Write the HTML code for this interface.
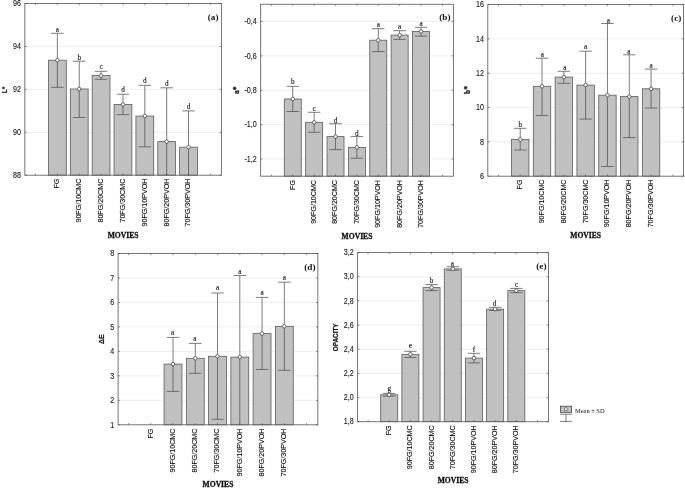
<!DOCTYPE html>
<html><head><meta charset="utf-8"><title>Figure</title>
<style>
html,body{margin:0;padding:0;background:#fff;}
body{width:685px;height:488px;overflow:hidden;}
svg{display:block;will-change:transform;}
text{fill:#111;}
.yt{font-family:"Liberation Sans",sans-serif;font-size:8.3px;stroke:#111;stroke-width:0.1px;}
.xl{font-family:"Liberation Sans",sans-serif;font-size:7.7px;stroke:#111;stroke-width:0.15px;}
.let{font-family:"Liberation Serif",serif;font-size:7.2px;stroke:#111;stroke-width:0.12px;}
.mov{font-family:"Liberation Serif",serif;font-size:7.6px;font-weight:bold;stroke:#111;stroke-width:0.3px;}
.tag{font-family:"Liberation Serif",serif;font-size:9.2px;font-weight:bold;}
.yls{font-family:"Liberation Sans",sans-serif;font-size:6.5px;font-weight:bold;stroke:#111;stroke-width:0.2px;}
.ylr{font-family:"Liberation Serif",serif;font-size:7.5px;font-weight:bold;stroke:#111;stroke-width:0.25px;}
.leg{font-family:"Liberation Serif",serif;font-size:6.4px;}
</style></head>
<body>
<svg width="685" height="488" viewBox="0 0 685 488">
<rect x="0" y="0" width="685" height="488" fill="#fff"/>
<g id="pa">
<line x1="24.85" y1="46.4775" x2="221.4" y2="46.4775" stroke="#d2d2d2" stroke-width="0.6" stroke-dasharray="0.6 0.4"/>
<line x1="24.85" y1="89.38499999999999" x2="221.4" y2="89.38499999999999" stroke="#d2d2d2" stroke-width="0.6" stroke-dasharray="0.6 0.4"/>
<line x1="24.85" y1="132.2925" x2="221.4" y2="132.2925" stroke="#d2d2d2" stroke-width="0.6" stroke-dasharray="0.6 0.4"/>
<rect x="48.48" y="60.20" width="17.80" height="115.00" fill="#c0c0c0" stroke="#5c5c5c" stroke-width="0.8"/>
<rect x="70.34" y="89.00" width="17.80" height="86.20" fill="#c0c0c0" stroke="#5c5c5c" stroke-width="0.8"/>
<rect x="92.20" y="75.50" width="17.80" height="99.70" fill="#c0c0c0" stroke="#5c5c5c" stroke-width="0.8"/>
<rect x="114.06" y="104.40" width="17.80" height="70.80" fill="#c0c0c0" stroke="#5c5c5c" stroke-width="0.8"/>
<rect x="135.92" y="116.10" width="17.80" height="59.10" fill="#c0c0c0" stroke="#5c5c5c" stroke-width="0.8"/>
<rect x="157.78" y="141.60" width="17.80" height="33.60" fill="#c0c0c0" stroke="#5c5c5c" stroke-width="0.8"/>
<rect x="179.64" y="147.20" width="17.80" height="28.00" fill="#c0c0c0" stroke="#5c5c5c" stroke-width="0.8"/>
<rect x="24.85" y="3.57" width="196.55" height="171.63" fill="none" stroke="#666" stroke-width="0.9"/>
<line x1="57.38" y1="33.3" x2="57.38" y2="87.3" stroke="#505050" stroke-width="0.75"/>
<line x1="51.18" y1="33.3" x2="63.58" y2="33.3" stroke="#505050" stroke-width="0.75"/>
<line x1="51.18" y1="87.3" x2="63.58" y2="87.3" stroke="#505050" stroke-width="0.75"/>
<circle cx="57.38" cy="60.20" r="1.75" fill="#fff" stroke="#404040" stroke-width="0.75"/>
<text x="57.38" y="31.80" class="let" text-anchor="middle">a</text>
<line x1="79.24" y1="61.2" x2="79.24" y2="117.5" stroke="#505050" stroke-width="0.75"/>
<line x1="73.04" y1="61.2" x2="85.44" y2="61.2" stroke="#505050" stroke-width="0.75"/>
<line x1="73.04" y1="117.5" x2="85.44" y2="117.5" stroke="#505050" stroke-width="0.75"/>
<circle cx="79.24" cy="89.00" r="1.75" fill="#fff" stroke="#404040" stroke-width="0.75"/>
<text x="79.24" y="59.70" class="let" text-anchor="middle">b</text>
<line x1="101.10" y1="71.3" x2="101.10" y2="79.3" stroke="#505050" stroke-width="0.75"/>
<line x1="94.90" y1="71.3" x2="107.30" y2="71.3" stroke="#505050" stroke-width="0.75"/>
<line x1="94.90" y1="79.3" x2="107.30" y2="79.3" stroke="#505050" stroke-width="0.75"/>
<circle cx="101.10" cy="75.50" r="1.75" fill="#fff" stroke="#404040" stroke-width="0.75"/>
<text x="101.10" y="69.30" class="let" text-anchor="middle">c</text>
<line x1="122.96" y1="94.2" x2="122.96" y2="114.7" stroke="#505050" stroke-width="0.75"/>
<line x1="116.76" y1="94.2" x2="129.16" y2="94.2" stroke="#505050" stroke-width="0.75"/>
<line x1="116.76" y1="114.7" x2="129.16" y2="114.7" stroke="#505050" stroke-width="0.75"/>
<circle cx="122.96" cy="104.40" r="1.75" fill="#fff" stroke="#404040" stroke-width="0.75"/>
<text x="122.96" y="92.00" class="let" text-anchor="middle">d</text>
<line x1="144.82" y1="85.3" x2="144.82" y2="146.8" stroke="#505050" stroke-width="0.75"/>
<line x1="138.62" y1="85.3" x2="151.02" y2="85.3" stroke="#505050" stroke-width="0.75"/>
<line x1="138.62" y1="146.8" x2="151.02" y2="146.8" stroke="#505050" stroke-width="0.75"/>
<circle cx="144.82" cy="116.10" r="1.75" fill="#fff" stroke="#404040" stroke-width="0.75"/>
<text x="144.82" y="83.30" class="let" text-anchor="middle">d</text>
<line x1="166.68" y1="87.8" x2="166.68" y2="175.2" stroke="#505050" stroke-width="0.75"/>
<line x1="160.48" y1="87.8" x2="172.88" y2="87.8" stroke="#505050" stroke-width="0.75"/>
<circle cx="166.68" cy="141.60" r="1.75" fill="#fff" stroke="#404040" stroke-width="0.75"/>
<text x="166.68" y="86.00" class="let" text-anchor="middle">d</text>
<line x1="188.54" y1="110.9" x2="188.54" y2="175.2" stroke="#505050" stroke-width="0.75"/>
<line x1="182.34" y1="110.9" x2="194.74" y2="110.9" stroke="#505050" stroke-width="0.75"/>
<circle cx="188.54" cy="147.20" r="1.75" fill="#fff" stroke="#404040" stroke-width="0.75"/>
<text x="188.54" y="109.40" class="let" text-anchor="middle">d</text>
<line x1="35.52" y1="175.2" x2="35.52" y2="173.6" stroke="#404040" stroke-width="0.6"/>
<line x1="35.52" y1="3.57" x2="35.52" y2="5.17" stroke="#404040" stroke-width="0.6"/>
<line x1="57.38" y1="175.2" x2="57.38" y2="173.6" stroke="#404040" stroke-width="0.6"/>
<line x1="57.38" y1="3.57" x2="57.38" y2="5.17" stroke="#404040" stroke-width="0.6"/>
<line x1="79.24" y1="175.2" x2="79.24" y2="173.6" stroke="#404040" stroke-width="0.6"/>
<line x1="79.24" y1="3.57" x2="79.24" y2="5.17" stroke="#404040" stroke-width="0.6"/>
<line x1="101.10" y1="175.2" x2="101.10" y2="173.6" stroke="#404040" stroke-width="0.6"/>
<line x1="101.10" y1="3.57" x2="101.10" y2="5.17" stroke="#404040" stroke-width="0.6"/>
<line x1="122.96" y1="175.2" x2="122.96" y2="173.6" stroke="#404040" stroke-width="0.6"/>
<line x1="122.96" y1="3.57" x2="122.96" y2="5.17" stroke="#404040" stroke-width="0.6"/>
<line x1="144.82" y1="175.2" x2="144.82" y2="173.6" stroke="#404040" stroke-width="0.6"/>
<line x1="144.82" y1="3.57" x2="144.82" y2="5.17" stroke="#404040" stroke-width="0.6"/>
<line x1="166.68" y1="175.2" x2="166.68" y2="173.6" stroke="#404040" stroke-width="0.6"/>
<line x1="166.68" y1="3.57" x2="166.68" y2="5.17" stroke="#404040" stroke-width="0.6"/>
<line x1="188.54" y1="175.2" x2="188.54" y2="173.6" stroke="#404040" stroke-width="0.6"/>
<line x1="188.54" y1="3.57" x2="188.54" y2="5.17" stroke="#404040" stroke-width="0.6"/>
<line x1="210.40" y1="175.2" x2="210.40" y2="173.6" stroke="#404040" stroke-width="0.6"/>
<line x1="210.40" y1="3.57" x2="210.40" y2="5.17" stroke="#404040" stroke-width="0.6"/>
<line x1="221.4" y1="3.57" x2="219.6" y2="3.57" stroke="#404040" stroke-width="0.6"/>
<line x1="24.85" y1="3.57" x2="26.650000000000002" y2="3.57" stroke="#404040" stroke-width="0.6"/>
<text transform="translate(20.95,6.27) scale(0.86,1)" class="yt" text-anchor="end">96</text>
<line x1="221.4" y1="46.4775" x2="219.6" y2="46.4775" stroke="#404040" stroke-width="0.6"/>
<line x1="24.85" y1="46.4775" x2="26.650000000000002" y2="46.4775" stroke="#404040" stroke-width="0.6"/>
<text transform="translate(20.95,49.18) scale(0.86,1)" class="yt" text-anchor="end">94</text>
<line x1="221.4" y1="89.38499999999999" x2="219.6" y2="89.38499999999999" stroke="#404040" stroke-width="0.6"/>
<line x1="24.85" y1="89.38499999999999" x2="26.650000000000002" y2="89.38499999999999" stroke="#404040" stroke-width="0.6"/>
<text transform="translate(20.95,92.08) scale(0.86,1)" class="yt" text-anchor="end">92</text>
<line x1="221.4" y1="132.2925" x2="219.6" y2="132.2925" stroke="#404040" stroke-width="0.6"/>
<line x1="24.85" y1="132.2925" x2="26.650000000000002" y2="132.2925" stroke="#404040" stroke-width="0.6"/>
<text transform="translate(20.95,134.99) scale(0.86,1)" class="yt" text-anchor="end">90</text>
<line x1="221.4" y1="175.2" x2="219.6" y2="175.2" stroke="#404040" stroke-width="0.6"/>
<line x1="24.85" y1="175.2" x2="26.650000000000002" y2="175.2" stroke="#404040" stroke-width="0.6"/>
<text transform="translate(20.95,177.90) scale(0.86,1)" class="yt" text-anchor="end">88</text>
<text transform="translate(59.33,178.7) rotate(-90) scale(0.925,1)" class="xl" text-anchor="end">FG</text>
<text transform="translate(81.19,178.7) rotate(-90) scale(0.925,1)" class="xl" text-anchor="end">90FG/10CMC</text>
<text transform="translate(103.05,178.7) rotate(-90) scale(0.925,1)" class="xl" text-anchor="end">80FG/20CMC</text>
<text transform="translate(124.91,178.7) rotate(-90) scale(0.925,1)" class="xl" text-anchor="end">70FG/30CMC</text>
<text transform="translate(146.77,178.7) rotate(-90) scale(0.925,1)" class="xl" text-anchor="end">90FG/10PVOH</text>
<text transform="translate(168.63,178.7) rotate(-90) scale(0.925,1)" class="xl" text-anchor="end">80FG/20PVOH</text>
<text transform="translate(190.49,178.7) rotate(-90) scale(0.925,1)" class="xl" text-anchor="end">70FG/30PVOH</text>
<text x="123.12" y="237.6" class="mov" text-anchor="middle">MOVIES</text>
<text x="218.5" y="19.6" class="tag" text-anchor="end">(a)</text>
<text transform="translate(6.8999999999999995,90) rotate(-90)" class="yls" text-anchor="middle">L*</text>
</g>
<g id="pb">
<line x1="260.65" y1="21.462999999999997" x2="453.4" y2="21.462999999999997" stroke="#d2d2d2" stroke-width="0.6" stroke-dasharray="0.6 0.4"/>
<line x1="260.65" y1="55.84899999999999" x2="453.4" y2="55.84899999999999" stroke="#d2d2d2" stroke-width="0.6" stroke-dasharray="0.6 0.4"/>
<line x1="260.65" y1="90.23499999999999" x2="453.4" y2="90.23499999999999" stroke="#d2d2d2" stroke-width="0.6" stroke-dasharray="0.6 0.4"/>
<line x1="260.65" y1="124.62099999999998" x2="453.4" y2="124.62099999999998" stroke="#d2d2d2" stroke-width="0.6" stroke-dasharray="0.6 0.4"/>
<line x1="260.65" y1="159.00699999999998" x2="453.4" y2="159.00699999999998" stroke="#d2d2d2" stroke-width="0.6" stroke-dasharray="0.6 0.4"/>
<rect x="284.27" y="99.00" width="17.00" height="77.20" fill="#c0c0c0" stroke="#5c5c5c" stroke-width="0.8"/>
<rect x="305.65" y="122.30" width="17.00" height="53.90" fill="#c0c0c0" stroke="#5c5c5c" stroke-width="0.8"/>
<rect x="327.02" y="136.60" width="17.00" height="39.60" fill="#c0c0c0" stroke="#5c5c5c" stroke-width="0.8"/>
<rect x="348.40" y="147.40" width="17.00" height="28.80" fill="#c0c0c0" stroke="#5c5c5c" stroke-width="0.8"/>
<rect x="369.77" y="40.20" width="17.00" height="136.00" fill="#c0c0c0" stroke="#5c5c5c" stroke-width="0.8"/>
<rect x="391.15" y="35.10" width="17.00" height="141.10" fill="#c0c0c0" stroke="#5c5c5c" stroke-width="0.8"/>
<rect x="412.52" y="31.40" width="17.00" height="144.80" fill="#c0c0c0" stroke="#5c5c5c" stroke-width="0.8"/>
<rect x="260.65" y="4.27" width="192.75" height="171.93" fill="none" stroke="#666" stroke-width="0.9"/>
<line x1="292.77" y1="86.3" x2="292.77" y2="111.5" stroke="#505050" stroke-width="0.75"/>
<line x1="286.57" y1="86.3" x2="298.97" y2="86.3" stroke="#505050" stroke-width="0.75"/>
<line x1="286.57" y1="111.5" x2="298.97" y2="111.5" stroke="#505050" stroke-width="0.75"/>
<circle cx="292.77" cy="99.00" r="1.75" fill="#fff" stroke="#404040" stroke-width="0.75"/>
<text x="292.77" y="84.30" class="let" text-anchor="middle">b</text>
<line x1="314.15" y1="112.3" x2="314.15" y2="132.3" stroke="#505050" stroke-width="0.75"/>
<line x1="307.95" y1="112.3" x2="320.35" y2="112.3" stroke="#505050" stroke-width="0.75"/>
<line x1="307.95" y1="132.3" x2="320.35" y2="132.3" stroke="#505050" stroke-width="0.75"/>
<circle cx="314.15" cy="122.30" r="1.75" fill="#fff" stroke="#404040" stroke-width="0.75"/>
<text x="314.15" y="110.50" class="let" text-anchor="middle">c</text>
<line x1="335.52" y1="123.7" x2="335.52" y2="149.6" stroke="#505050" stroke-width="0.75"/>
<line x1="329.32" y1="123.7" x2="341.72" y2="123.7" stroke="#505050" stroke-width="0.75"/>
<line x1="329.32" y1="149.6" x2="341.72" y2="149.6" stroke="#505050" stroke-width="0.75"/>
<circle cx="335.52" cy="136.60" r="1.75" fill="#fff" stroke="#404040" stroke-width="0.75"/>
<text x="335.52" y="122.50" class="let" text-anchor="middle">d</text>
<line x1="356.90" y1="136.6" x2="356.90" y2="158.2" stroke="#505050" stroke-width="0.75"/>
<line x1="350.70" y1="136.6" x2="363.10" y2="136.6" stroke="#505050" stroke-width="0.75"/>
<line x1="350.70" y1="158.2" x2="363.10" y2="158.2" stroke="#505050" stroke-width="0.75"/>
<circle cx="356.90" cy="147.40" r="1.75" fill="#fff" stroke="#404040" stroke-width="0.75"/>
<text x="356.90" y="135.80" class="let" text-anchor="middle">d</text>
<line x1="378.27" y1="28.7" x2="378.27" y2="51.6" stroke="#505050" stroke-width="0.75"/>
<line x1="372.07" y1="28.7" x2="384.47" y2="28.7" stroke="#505050" stroke-width="0.75"/>
<line x1="372.07" y1="51.6" x2="384.47" y2="51.6" stroke="#505050" stroke-width="0.75"/>
<circle cx="378.27" cy="40.20" r="1.75" fill="#fff" stroke="#404040" stroke-width="0.75"/>
<text x="378.27" y="27.20" class="let" text-anchor="middle">a</text>
<line x1="399.65" y1="30.7" x2="399.65" y2="39.4" stroke="#505050" stroke-width="0.75"/>
<line x1="393.45" y1="30.7" x2="405.85" y2="30.7" stroke="#505050" stroke-width="0.75"/>
<line x1="393.45" y1="39.4" x2="405.85" y2="39.4" stroke="#505050" stroke-width="0.75"/>
<circle cx="399.65" cy="35.10" r="1.75" fill="#fff" stroke="#404040" stroke-width="0.75"/>
<text x="399.65" y="29.20" class="let" text-anchor="middle">a</text>
<line x1="421.02" y1="27.3" x2="421.02" y2="36.1" stroke="#505050" stroke-width="0.75"/>
<line x1="414.82" y1="27.3" x2="427.22" y2="27.3" stroke="#505050" stroke-width="0.75"/>
<line x1="414.82" y1="36.1" x2="427.22" y2="36.1" stroke="#505050" stroke-width="0.75"/>
<circle cx="421.02" cy="31.40" r="1.75" fill="#fff" stroke="#404040" stroke-width="0.75"/>
<text x="421.02" y="25.80" class="let" text-anchor="middle">a</text>
<line x1="271.40" y1="176.2" x2="271.40" y2="174.6" stroke="#404040" stroke-width="0.6"/>
<line x1="271.40" y1="4.27" x2="271.40" y2="5.869999999999999" stroke="#404040" stroke-width="0.6"/>
<line x1="292.77" y1="176.2" x2="292.77" y2="174.6" stroke="#404040" stroke-width="0.6"/>
<line x1="292.77" y1="4.27" x2="292.77" y2="5.869999999999999" stroke="#404040" stroke-width="0.6"/>
<line x1="314.15" y1="176.2" x2="314.15" y2="174.6" stroke="#404040" stroke-width="0.6"/>
<line x1="314.15" y1="4.27" x2="314.15" y2="5.869999999999999" stroke="#404040" stroke-width="0.6"/>
<line x1="335.52" y1="176.2" x2="335.52" y2="174.6" stroke="#404040" stroke-width="0.6"/>
<line x1="335.52" y1="4.27" x2="335.52" y2="5.869999999999999" stroke="#404040" stroke-width="0.6"/>
<line x1="356.90" y1="176.2" x2="356.90" y2="174.6" stroke="#404040" stroke-width="0.6"/>
<line x1="356.90" y1="4.27" x2="356.90" y2="5.869999999999999" stroke="#404040" stroke-width="0.6"/>
<line x1="378.27" y1="176.2" x2="378.27" y2="174.6" stroke="#404040" stroke-width="0.6"/>
<line x1="378.27" y1="4.27" x2="378.27" y2="5.869999999999999" stroke="#404040" stroke-width="0.6"/>
<line x1="399.65" y1="176.2" x2="399.65" y2="174.6" stroke="#404040" stroke-width="0.6"/>
<line x1="399.65" y1="4.27" x2="399.65" y2="5.869999999999999" stroke="#404040" stroke-width="0.6"/>
<line x1="421.02" y1="176.2" x2="421.02" y2="174.6" stroke="#404040" stroke-width="0.6"/>
<line x1="421.02" y1="4.27" x2="421.02" y2="5.869999999999999" stroke="#404040" stroke-width="0.6"/>
<line x1="442.40" y1="176.2" x2="442.40" y2="174.6" stroke="#404040" stroke-width="0.6"/>
<line x1="442.40" y1="4.27" x2="442.40" y2="5.869999999999999" stroke="#404040" stroke-width="0.6"/>
<line x1="453.4" y1="21.462999999999997" x2="451.59999999999997" y2="21.462999999999997" stroke="#404040" stroke-width="0.6"/>
<line x1="260.65" y1="21.462999999999997" x2="262.45" y2="21.462999999999997" stroke="#404040" stroke-width="0.6"/>
<text transform="translate(256.75,24.16) scale(0.86,1)" class="yt" text-anchor="end">-0,4</text>
<line x1="453.4" y1="55.84899999999999" x2="451.59999999999997" y2="55.84899999999999" stroke="#404040" stroke-width="0.6"/>
<line x1="260.65" y1="55.84899999999999" x2="262.45" y2="55.84899999999999" stroke="#404040" stroke-width="0.6"/>
<text transform="translate(256.75,58.55) scale(0.86,1)" class="yt" text-anchor="end">-0,6</text>
<line x1="453.4" y1="90.23499999999999" x2="451.59999999999997" y2="90.23499999999999" stroke="#404040" stroke-width="0.6"/>
<line x1="260.65" y1="90.23499999999999" x2="262.45" y2="90.23499999999999" stroke="#404040" stroke-width="0.6"/>
<text transform="translate(256.75,92.93) scale(0.86,1)" class="yt" text-anchor="end">-0,8</text>
<line x1="453.4" y1="124.62099999999998" x2="451.59999999999997" y2="124.62099999999998" stroke="#404040" stroke-width="0.6"/>
<line x1="260.65" y1="124.62099999999998" x2="262.45" y2="124.62099999999998" stroke="#404040" stroke-width="0.6"/>
<text transform="translate(256.75,127.32) scale(0.86,1)" class="yt" text-anchor="end">-1,0</text>
<line x1="453.4" y1="159.00699999999998" x2="451.59999999999997" y2="159.00699999999998" stroke="#404040" stroke-width="0.6"/>
<line x1="260.65" y1="159.00699999999998" x2="262.45" y2="159.00699999999998" stroke="#404040" stroke-width="0.6"/>
<text transform="translate(256.75,161.71) scale(0.86,1)" class="yt" text-anchor="end">-1,2</text>
<text transform="translate(294.72,180) rotate(-90) scale(0.925,1)" class="xl" text-anchor="end">FG</text>
<text transform="translate(316.10,180) rotate(-90) scale(0.925,1)" class="xl" text-anchor="end">90FG/10CMC</text>
<text transform="translate(337.47,180) rotate(-90) scale(0.925,1)" class="xl" text-anchor="end">80FG/20CMC</text>
<text transform="translate(358.85,180) rotate(-90) scale(0.925,1)" class="xl" text-anchor="end">70FG/30CMC</text>
<text transform="translate(380.22,180) rotate(-90) scale(0.925,1)" class="xl" text-anchor="end">90FG/10PVOH</text>
<text transform="translate(401.60,180) rotate(-90) scale(0.925,1)" class="xl" text-anchor="end">80FG/20PVOH</text>
<text transform="translate(422.97,180) rotate(-90) scale(0.925,1)" class="xl" text-anchor="end">70FG/30PVOH</text>
<text x="357.02" y="238.6" class="mov" text-anchor="middle">MOVIES</text>
<text x="450.5" y="19.6" class="tag" text-anchor="end">(b)</text>
<text transform="translate(238.8,90.3) rotate(-90)" class="ylr" text-anchor="middle">a*</text>
</g>
<g id="pc">
<line x1="487.8" y1="38.879999999999995" x2="683.6" y2="38.879999999999995" stroke="#d2d2d2" stroke-width="0.6" stroke-dasharray="0.6 0.4"/>
<line x1="487.8" y1="73.21" x2="683.6" y2="73.21" stroke="#d2d2d2" stroke-width="0.6" stroke-dasharray="0.6 0.4"/>
<line x1="487.8" y1="107.53999999999999" x2="683.6" y2="107.53999999999999" stroke="#d2d2d2" stroke-width="0.6" stroke-dasharray="0.6 0.4"/>
<line x1="487.8" y1="141.87" x2="683.6" y2="141.87" stroke="#d2d2d2" stroke-width="0.6" stroke-dasharray="0.6 0.4"/>
<rect x="511.51" y="139.40" width="17.40" height="36.80" fill="#c0c0c0" stroke="#5c5c5c" stroke-width="0.8"/>
<rect x="533.32" y="86.30" width="17.40" height="89.90" fill="#c0c0c0" stroke="#5c5c5c" stroke-width="0.8"/>
<rect x="555.13" y="77.10" width="17.40" height="99.10" fill="#c0c0c0" stroke="#5c5c5c" stroke-width="0.8"/>
<rect x="576.94" y="85.10" width="17.40" height="91.10" fill="#c0c0c0" stroke="#5c5c5c" stroke-width="0.8"/>
<rect x="598.75" y="95.20" width="17.40" height="81.00" fill="#c0c0c0" stroke="#5c5c5c" stroke-width="0.8"/>
<rect x="620.56" y="96.60" width="17.40" height="79.60" fill="#c0c0c0" stroke="#5c5c5c" stroke-width="0.8"/>
<rect x="642.37" y="88.80" width="17.40" height="87.40" fill="#c0c0c0" stroke="#5c5c5c" stroke-width="0.8"/>
<rect x="487.8" y="4.55" width="195.80" height="171.65" fill="none" stroke="#666" stroke-width="0.9"/>
<line x1="520.21" y1="128.3" x2="520.21" y2="150.0" stroke="#505050" stroke-width="0.75"/>
<line x1="514.01" y1="128.3" x2="526.41" y2="128.3" stroke="#505050" stroke-width="0.75"/>
<line x1="514.01" y1="150.0" x2="526.41" y2="150.0" stroke="#505050" stroke-width="0.75"/>
<circle cx="520.21" cy="139.40" r="1.75" fill="#fff" stroke="#404040" stroke-width="0.75"/>
<text x="520.21" y="126.80" class="let" text-anchor="middle">b</text>
<line x1="542.02" y1="58.2" x2="542.02" y2="115.5" stroke="#505050" stroke-width="0.75"/>
<line x1="535.82" y1="58.2" x2="548.22" y2="58.2" stroke="#505050" stroke-width="0.75"/>
<line x1="535.82" y1="115.5" x2="548.22" y2="115.5" stroke="#505050" stroke-width="0.75"/>
<circle cx="542.02" cy="86.30" r="1.75" fill="#fff" stroke="#404040" stroke-width="0.75"/>
<text x="542.32" y="56.70" class="let" text-anchor="middle">a</text>
<line x1="563.83" y1="71.3" x2="563.83" y2="83.3" stroke="#505050" stroke-width="0.75"/>
<line x1="557.63" y1="71.3" x2="570.03" y2="71.3" stroke="#505050" stroke-width="0.75"/>
<line x1="557.63" y1="83.3" x2="570.03" y2="83.3" stroke="#505050" stroke-width="0.75"/>
<circle cx="563.83" cy="77.10" r="1.75" fill="#fff" stroke="#404040" stroke-width="0.75"/>
<text x="564.93" y="69.80" class="let" text-anchor="middle">a</text>
<line x1="585.64" y1="51.2" x2="585.64" y2="119.1" stroke="#505050" stroke-width="0.75"/>
<line x1="579.44" y1="51.2" x2="591.84" y2="51.2" stroke="#505050" stroke-width="0.75"/>
<line x1="579.44" y1="119.1" x2="591.84" y2="119.1" stroke="#505050" stroke-width="0.75"/>
<circle cx="585.64" cy="85.10" r="1.75" fill="#fff" stroke="#404040" stroke-width="0.75"/>
<text x="585.64" y="49.20" class="let" text-anchor="middle">a</text>
<line x1="607.45" y1="23.5" x2="607.45" y2="166.5" stroke="#505050" stroke-width="0.75"/>
<line x1="601.25" y1="23.5" x2="613.65" y2="23.5" stroke="#505050" stroke-width="0.75"/>
<line x1="601.25" y1="166.5" x2="613.65" y2="166.5" stroke="#505050" stroke-width="0.75"/>
<circle cx="607.45" cy="95.20" r="1.75" fill="#fff" stroke="#404040" stroke-width="0.75"/>
<text x="608.45" y="22.50" class="let" text-anchor="middle">a</text>
<line x1="629.26" y1="54.8" x2="629.26" y2="137.6" stroke="#505050" stroke-width="0.75"/>
<line x1="623.06" y1="54.8" x2="635.46" y2="54.8" stroke="#505050" stroke-width="0.75"/>
<line x1="623.06" y1="137.6" x2="635.46" y2="137.6" stroke="#505050" stroke-width="0.75"/>
<circle cx="629.26" cy="96.60" r="1.75" fill="#fff" stroke="#404040" stroke-width="0.75"/>
<text x="628.96" y="53.80" class="let" text-anchor="middle">a</text>
<line x1="651.07" y1="69.1" x2="651.07" y2="108.0" stroke="#505050" stroke-width="0.75"/>
<line x1="644.87" y1="69.1" x2="657.27" y2="69.1" stroke="#505050" stroke-width="0.75"/>
<line x1="644.87" y1="108.0" x2="657.27" y2="108.0" stroke="#505050" stroke-width="0.75"/>
<circle cx="651.07" cy="88.80" r="1.75" fill="#fff" stroke="#404040" stroke-width="0.75"/>
<text x="651.07" y="67.90" class="let" text-anchor="middle">a</text>
<line x1="498.40" y1="176.2" x2="498.40" y2="174.6" stroke="#404040" stroke-width="0.6"/>
<line x1="498.40" y1="4.55" x2="498.40" y2="6.15" stroke="#404040" stroke-width="0.6"/>
<line x1="520.21" y1="176.2" x2="520.21" y2="174.6" stroke="#404040" stroke-width="0.6"/>
<line x1="520.21" y1="4.55" x2="520.21" y2="6.15" stroke="#404040" stroke-width="0.6"/>
<line x1="542.02" y1="176.2" x2="542.02" y2="174.6" stroke="#404040" stroke-width="0.6"/>
<line x1="542.02" y1="4.55" x2="542.02" y2="6.15" stroke="#404040" stroke-width="0.6"/>
<line x1="563.83" y1="176.2" x2="563.83" y2="174.6" stroke="#404040" stroke-width="0.6"/>
<line x1="563.83" y1="4.55" x2="563.83" y2="6.15" stroke="#404040" stroke-width="0.6"/>
<line x1="585.64" y1="176.2" x2="585.64" y2="174.6" stroke="#404040" stroke-width="0.6"/>
<line x1="585.64" y1="4.55" x2="585.64" y2="6.15" stroke="#404040" stroke-width="0.6"/>
<line x1="607.45" y1="176.2" x2="607.45" y2="174.6" stroke="#404040" stroke-width="0.6"/>
<line x1="607.45" y1="4.55" x2="607.45" y2="6.15" stroke="#404040" stroke-width="0.6"/>
<line x1="629.26" y1="176.2" x2="629.26" y2="174.6" stroke="#404040" stroke-width="0.6"/>
<line x1="629.26" y1="4.55" x2="629.26" y2="6.15" stroke="#404040" stroke-width="0.6"/>
<line x1="651.07" y1="176.2" x2="651.07" y2="174.6" stroke="#404040" stroke-width="0.6"/>
<line x1="651.07" y1="4.55" x2="651.07" y2="6.15" stroke="#404040" stroke-width="0.6"/>
<line x1="672.88" y1="176.2" x2="672.88" y2="174.6" stroke="#404040" stroke-width="0.6"/>
<line x1="672.88" y1="4.55" x2="672.88" y2="6.15" stroke="#404040" stroke-width="0.6"/>
<line x1="683.6" y1="4.55" x2="681.8000000000001" y2="4.55" stroke="#404040" stroke-width="0.6"/>
<line x1="487.8" y1="4.55" x2="489.6" y2="4.55" stroke="#404040" stroke-width="0.6"/>
<text transform="translate(483.90,7.25) scale(0.86,1)" class="yt" text-anchor="end">16</text>
<line x1="683.6" y1="38.879999999999995" x2="681.8000000000001" y2="38.879999999999995" stroke="#404040" stroke-width="0.6"/>
<line x1="487.8" y1="38.879999999999995" x2="489.6" y2="38.879999999999995" stroke="#404040" stroke-width="0.6"/>
<text transform="translate(483.90,41.58) scale(0.86,1)" class="yt" text-anchor="end">14</text>
<line x1="683.6" y1="73.21" x2="681.8000000000001" y2="73.21" stroke="#404040" stroke-width="0.6"/>
<line x1="487.8" y1="73.21" x2="489.6" y2="73.21" stroke="#404040" stroke-width="0.6"/>
<text transform="translate(483.90,75.91) scale(0.86,1)" class="yt" text-anchor="end">12</text>
<line x1="683.6" y1="107.53999999999999" x2="681.8000000000001" y2="107.53999999999999" stroke="#404040" stroke-width="0.6"/>
<line x1="487.8" y1="107.53999999999999" x2="489.6" y2="107.53999999999999" stroke="#404040" stroke-width="0.6"/>
<text transform="translate(483.90,110.24) scale(0.86,1)" class="yt" text-anchor="end">10</text>
<line x1="683.6" y1="141.87" x2="681.8000000000001" y2="141.87" stroke="#404040" stroke-width="0.6"/>
<line x1="487.8" y1="141.87" x2="489.6" y2="141.87" stroke="#404040" stroke-width="0.6"/>
<text transform="translate(483.90,144.57) scale(0.86,1)" class="yt" text-anchor="end">8</text>
<line x1="683.6" y1="176.2" x2="681.8000000000001" y2="176.2" stroke="#404040" stroke-width="0.6"/>
<line x1="487.8" y1="176.2" x2="489.6" y2="176.2" stroke="#404040" stroke-width="0.6"/>
<text transform="translate(483.90,178.90) scale(0.86,1)" class="yt" text-anchor="end">6</text>
<text transform="translate(522.16,179.5) rotate(-90) scale(0.925,1)" class="xl" text-anchor="end">FG</text>
<text transform="translate(543.97,179.5) rotate(-90) scale(0.925,1)" class="xl" text-anchor="end">90FG/10CMC</text>
<text transform="translate(565.78,179.5) rotate(-90) scale(0.925,1)" class="xl" text-anchor="end">80FG/20CMC</text>
<text transform="translate(587.59,179.5) rotate(-90) scale(0.925,1)" class="xl" text-anchor="end">70FG/30CMC</text>
<text transform="translate(609.40,179.5) rotate(-90) scale(0.925,1)" class="xl" text-anchor="end">90FG/10PVOH</text>
<text transform="translate(631.21,179.5) rotate(-90) scale(0.925,1)" class="xl" text-anchor="end">80FG/20PVOH</text>
<text transform="translate(653.02,179.5) rotate(-90) scale(0.925,1)" class="xl" text-anchor="end">70FG/30PVOH</text>
<text x="585.70" y="238.1" class="mov" text-anchor="middle">MOVIES</text>
<text x="681.3" y="20.8" class="tag" text-anchor="end">(c)</text>
<text transform="translate(469.8,90) rotate(-90)" class="ylr" text-anchor="middle">b*</text>
</g>
<g id="pd">
<line x1="118.1" y1="277.9714285714286" x2="317.85" y2="277.9714285714286" stroke="#d2d2d2" stroke-width="0.6" stroke-dasharray="0.6 0.4"/>
<line x1="118.1" y1="302.4428571428571" x2="317.85" y2="302.4428571428571" stroke="#d2d2d2" stroke-width="0.6" stroke-dasharray="0.6 0.4"/>
<line x1="118.1" y1="326.9142857142857" x2="317.85" y2="326.9142857142857" stroke="#d2d2d2" stroke-width="0.6" stroke-dasharray="0.6 0.4"/>
<line x1="118.1" y1="351.3857142857143" x2="317.85" y2="351.3857142857143" stroke="#d2d2d2" stroke-width="0.6" stroke-dasharray="0.6 0.4"/>
<line x1="118.1" y1="375.8571428571429" x2="317.85" y2="375.8571428571429" stroke="#d2d2d2" stroke-width="0.6" stroke-dasharray="0.6 0.4"/>
<line x1="118.1" y1="400.3285714285714" x2="317.85" y2="400.3285714285714" stroke="#d2d2d2" stroke-width="0.6" stroke-dasharray="0.6 0.4"/>
<rect x="164.07" y="364.10" width="17.90" height="60.70" fill="#c0c0c0" stroke="#5c5c5c" stroke-width="0.8"/>
<rect x="186.33" y="358.30" width="17.90" height="66.50" fill="#c0c0c0" stroke="#5c5c5c" stroke-width="0.8"/>
<rect x="208.59" y="356.30" width="17.90" height="68.50" fill="#c0c0c0" stroke="#5c5c5c" stroke-width="0.8"/>
<rect x="230.85" y="357.10" width="17.90" height="67.70" fill="#c0c0c0" stroke="#5c5c5c" stroke-width="0.8"/>
<rect x="253.11" y="333.60" width="17.90" height="91.20" fill="#c0c0c0" stroke="#5c5c5c" stroke-width="0.8"/>
<rect x="275.37" y="326.30" width="17.90" height="98.50" fill="#c0c0c0" stroke="#5c5c5c" stroke-width="0.8"/>
<rect x="118.1" y="253.5" width="199.75" height="171.30" fill="none" stroke="#666" stroke-width="0.9"/>
<line x1="173.02" y1="337.4" x2="173.02" y2="391.4" stroke="#505050" stroke-width="0.75"/>
<line x1="166.82" y1="337.4" x2="179.22" y2="337.4" stroke="#505050" stroke-width="0.75"/>
<line x1="166.82" y1="391.4" x2="179.22" y2="391.4" stroke="#505050" stroke-width="0.75"/>
<circle cx="173.02" cy="364.10" r="1.75" fill="#fff" stroke="#404040" stroke-width="0.75"/>
<text x="172.52" y="334.80" class="let" text-anchor="middle">a</text>
<line x1="195.28" y1="343.4" x2="195.28" y2="373.3" stroke="#505050" stroke-width="0.75"/>
<line x1="189.08" y1="343.4" x2="201.48" y2="343.4" stroke="#505050" stroke-width="0.75"/>
<line x1="189.08" y1="373.3" x2="201.48" y2="373.3" stroke="#505050" stroke-width="0.75"/>
<circle cx="195.28" cy="358.30" r="1.75" fill="#fff" stroke="#404040" stroke-width="0.75"/>
<text x="194.78" y="341.40" class="let" text-anchor="middle">a</text>
<line x1="217.54" y1="293.0" x2="217.54" y2="419.3" stroke="#505050" stroke-width="0.75"/>
<line x1="211.34" y1="293.0" x2="223.74" y2="293.0" stroke="#505050" stroke-width="0.75"/>
<line x1="211.34" y1="419.3" x2="223.74" y2="419.3" stroke="#505050" stroke-width="0.75"/>
<circle cx="217.54" cy="356.30" r="1.75" fill="#fff" stroke="#404040" stroke-width="0.75"/>
<text x="217.54" y="290.20" class="let" text-anchor="middle">a</text>
<line x1="239.80" y1="275.5" x2="239.80" y2="424.8" stroke="#505050" stroke-width="0.75"/>
<line x1="233.60" y1="275.5" x2="246.00" y2="275.5" stroke="#505050" stroke-width="0.75"/>
<circle cx="239.80" cy="357.10" r="1.75" fill="#fff" stroke="#404040" stroke-width="0.75"/>
<text x="239.80" y="273.50" class="let" text-anchor="middle">a</text>
<line x1="262.06" y1="297.4" x2="262.06" y2="369.5" stroke="#505050" stroke-width="0.75"/>
<line x1="255.86" y1="297.4" x2="268.26" y2="297.4" stroke="#505050" stroke-width="0.75"/>
<line x1="255.86" y1="369.5" x2="268.26" y2="369.5" stroke="#505050" stroke-width="0.75"/>
<circle cx="262.06" cy="333.60" r="1.75" fill="#fff" stroke="#404040" stroke-width="0.75"/>
<text x="262.06" y="295.40" class="let" text-anchor="middle">a</text>
<line x1="284.32" y1="282.2" x2="284.32" y2="370.3" stroke="#505050" stroke-width="0.75"/>
<line x1="278.12" y1="282.2" x2="290.52" y2="282.2" stroke="#505050" stroke-width="0.75"/>
<line x1="278.12" y1="370.3" x2="290.52" y2="370.3" stroke="#505050" stroke-width="0.75"/>
<circle cx="284.32" cy="326.30" r="1.75" fill="#fff" stroke="#404040" stroke-width="0.75"/>
<text x="284.32" y="279.80" class="let" text-anchor="middle">a</text>
<line x1="128.50" y1="424.8" x2="128.50" y2="423.2" stroke="#404040" stroke-width="0.6"/>
<line x1="128.50" y1="253.5" x2="128.50" y2="255.1" stroke="#404040" stroke-width="0.6"/>
<line x1="150.76" y1="424.8" x2="150.76" y2="423.2" stroke="#404040" stroke-width="0.6"/>
<line x1="150.76" y1="253.5" x2="150.76" y2="255.1" stroke="#404040" stroke-width="0.6"/>
<line x1="173.02" y1="424.8" x2="173.02" y2="423.2" stroke="#404040" stroke-width="0.6"/>
<line x1="173.02" y1="253.5" x2="173.02" y2="255.1" stroke="#404040" stroke-width="0.6"/>
<line x1="195.28" y1="424.8" x2="195.28" y2="423.2" stroke="#404040" stroke-width="0.6"/>
<line x1="195.28" y1="253.5" x2="195.28" y2="255.1" stroke="#404040" stroke-width="0.6"/>
<line x1="217.54" y1="424.8" x2="217.54" y2="423.2" stroke="#404040" stroke-width="0.6"/>
<line x1="217.54" y1="253.5" x2="217.54" y2="255.1" stroke="#404040" stroke-width="0.6"/>
<line x1="239.80" y1="424.8" x2="239.80" y2="423.2" stroke="#404040" stroke-width="0.6"/>
<line x1="239.80" y1="253.5" x2="239.80" y2="255.1" stroke="#404040" stroke-width="0.6"/>
<line x1="262.06" y1="424.8" x2="262.06" y2="423.2" stroke="#404040" stroke-width="0.6"/>
<line x1="262.06" y1="253.5" x2="262.06" y2="255.1" stroke="#404040" stroke-width="0.6"/>
<line x1="284.32" y1="424.8" x2="284.32" y2="423.2" stroke="#404040" stroke-width="0.6"/>
<line x1="284.32" y1="253.5" x2="284.32" y2="255.1" stroke="#404040" stroke-width="0.6"/>
<line x1="306.58" y1="424.8" x2="306.58" y2="423.2" stroke="#404040" stroke-width="0.6"/>
<line x1="306.58" y1="253.5" x2="306.58" y2="255.1" stroke="#404040" stroke-width="0.6"/>
<line x1="317.85" y1="253.5" x2="316.05" y2="253.5" stroke="#404040" stroke-width="0.6"/>
<line x1="118.1" y1="253.5" x2="119.89999999999999" y2="253.5" stroke="#404040" stroke-width="0.6"/>
<text transform="translate(114.20,256.20) scale(0.86,1)" class="yt" text-anchor="end">8</text>
<line x1="317.85" y1="277.9714285714286" x2="316.05" y2="277.9714285714286" stroke="#404040" stroke-width="0.6"/>
<line x1="118.1" y1="277.9714285714286" x2="119.89999999999999" y2="277.9714285714286" stroke="#404040" stroke-width="0.6"/>
<text transform="translate(114.20,280.67) scale(0.86,1)" class="yt" text-anchor="end">7</text>
<line x1="317.85" y1="302.4428571428571" x2="316.05" y2="302.4428571428571" stroke="#404040" stroke-width="0.6"/>
<line x1="118.1" y1="302.4428571428571" x2="119.89999999999999" y2="302.4428571428571" stroke="#404040" stroke-width="0.6"/>
<text transform="translate(114.20,305.14) scale(0.86,1)" class="yt" text-anchor="end">6</text>
<line x1="317.85" y1="326.9142857142857" x2="316.05" y2="326.9142857142857" stroke="#404040" stroke-width="0.6"/>
<line x1="118.1" y1="326.9142857142857" x2="119.89999999999999" y2="326.9142857142857" stroke="#404040" stroke-width="0.6"/>
<text transform="translate(114.20,329.61) scale(0.86,1)" class="yt" text-anchor="end">5</text>
<line x1="317.85" y1="351.3857142857143" x2="316.05" y2="351.3857142857143" stroke="#404040" stroke-width="0.6"/>
<line x1="118.1" y1="351.3857142857143" x2="119.89999999999999" y2="351.3857142857143" stroke="#404040" stroke-width="0.6"/>
<text transform="translate(114.20,354.09) scale(0.86,1)" class="yt" text-anchor="end">4</text>
<line x1="317.85" y1="375.8571428571429" x2="316.05" y2="375.8571428571429" stroke="#404040" stroke-width="0.6"/>
<line x1="118.1" y1="375.8571428571429" x2="119.89999999999999" y2="375.8571428571429" stroke="#404040" stroke-width="0.6"/>
<text transform="translate(114.20,378.56) scale(0.86,1)" class="yt" text-anchor="end">3</text>
<line x1="317.85" y1="400.3285714285714" x2="316.05" y2="400.3285714285714" stroke="#404040" stroke-width="0.6"/>
<line x1="118.1" y1="400.3285714285714" x2="119.89999999999999" y2="400.3285714285714" stroke="#404040" stroke-width="0.6"/>
<text transform="translate(114.20,403.03) scale(0.86,1)" class="yt" text-anchor="end">2</text>
<line x1="317.85" y1="424.8" x2="316.05" y2="424.8" stroke="#404040" stroke-width="0.6"/>
<line x1="118.1" y1="424.8" x2="119.89999999999999" y2="424.8" stroke="#404040" stroke-width="0.6"/>
<text transform="translate(114.20,427.50) scale(0.86,1)" class="yt" text-anchor="end">1</text>
<text transform="translate(152.71,428.6) rotate(-90) scale(0.925,1)" class="xl" text-anchor="end">FG</text>
<text transform="translate(174.97,428.6) rotate(-90) scale(0.925,1)" class="xl" text-anchor="end">90FG/10CMC</text>
<text transform="translate(197.23,428.6) rotate(-90) scale(0.925,1)" class="xl" text-anchor="end">80FG/20CMC</text>
<text transform="translate(219.49,428.6) rotate(-90) scale(0.925,1)" class="xl" text-anchor="end">70FG/30CMC</text>
<text transform="translate(241.75,428.6) rotate(-90) scale(0.925,1)" class="xl" text-anchor="end">90FG/10PVOH</text>
<text transform="translate(264.01,428.6) rotate(-90) scale(0.925,1)" class="xl" text-anchor="end">80FG/20PVOH</text>
<text transform="translate(286.27,428.6) rotate(-90) scale(0.925,1)" class="xl" text-anchor="end">70FG/30PVOH</text>
<text x="217.98" y="486.9" class="mov" text-anchor="middle">MOVIES</text>
<text x="315.5" y="269.6" class="tag" text-anchor="end">(d)</text>
<text transform="translate(103.6,339.2) rotate(-90)" class="yls" style="font-size:7.0px" text-anchor="middle">ΔE</text>
</g>
<g id="pe">
<line x1="357.6" y1="276.75714285714287" x2="548.5" y2="276.75714285714287" stroke="#d2d2d2" stroke-width="0.6" stroke-dasharray="0.6 0.4"/>
<line x1="357.6" y1="300.9142857142857" x2="548.5" y2="300.9142857142857" stroke="#d2d2d2" stroke-width="0.6" stroke-dasharray="0.6 0.4"/>
<line x1="357.6" y1="325.07142857142856" x2="548.5" y2="325.07142857142856" stroke="#d2d2d2" stroke-width="0.6" stroke-dasharray="0.6 0.4"/>
<line x1="357.6" y1="349.2285714285714" x2="548.5" y2="349.2285714285714" stroke="#d2d2d2" stroke-width="0.6" stroke-dasharray="0.6 0.4"/>
<line x1="357.6" y1="373.38571428571424" x2="548.5" y2="373.38571428571424" stroke="#d2d2d2" stroke-width="0.6" stroke-dasharray="0.6 0.4"/>
<line x1="357.6" y1="397.5428571428571" x2="548.5" y2="397.5428571428571" stroke="#d2d2d2" stroke-width="0.6" stroke-dasharray="0.6 0.4"/>
<rect x="380.69" y="394.80" width="17.00" height="26.90" fill="#c0c0c0" stroke="#5c5c5c" stroke-width="0.8"/>
<rect x="401.88" y="354.30" width="17.00" height="67.40" fill="#c0c0c0" stroke="#5c5c5c" stroke-width="0.8"/>
<rect x="423.07" y="287.60" width="17.00" height="134.10" fill="#c0c0c0" stroke="#5c5c5c" stroke-width="0.8"/>
<rect x="444.26" y="268.90" width="17.00" height="152.80" fill="#c0c0c0" stroke="#5c5c5c" stroke-width="0.8"/>
<rect x="465.45" y="358.10" width="17.00" height="63.60" fill="#c0c0c0" stroke="#5c5c5c" stroke-width="0.8"/>
<rect x="486.64" y="309.10" width="17.00" height="112.60" fill="#c0c0c0" stroke="#5c5c5c" stroke-width="0.8"/>
<rect x="507.83" y="290.60" width="17.00" height="131.10" fill="#c0c0c0" stroke="#5c5c5c" stroke-width="0.8"/>
<rect x="357.6" y="252.6" width="190.90" height="169.10" fill="none" stroke="#666" stroke-width="0.9"/>
<line x1="389.19" y1="393.4" x2="389.19" y2="396.2" stroke="#505050" stroke-width="0.75"/>
<line x1="382.99" y1="393.4" x2="395.39" y2="393.4" stroke="#505050" stroke-width="0.75"/>
<line x1="382.99" y1="396.2" x2="395.39" y2="396.2" stroke="#505050" stroke-width="0.75"/>
<circle cx="389.19" cy="394.80" r="1.75" fill="#fff" stroke="#404040" stroke-width="0.75"/>
<text x="389.19" y="390.60" class="let" text-anchor="middle">g</text>
<line x1="410.38" y1="351.3" x2="410.38" y2="357.5" stroke="#505050" stroke-width="0.75"/>
<line x1="404.18" y1="351.3" x2="416.58" y2="351.3" stroke="#505050" stroke-width="0.75"/>
<line x1="404.18" y1="357.5" x2="416.58" y2="357.5" stroke="#505050" stroke-width="0.75"/>
<circle cx="410.38" cy="354.30" r="1.75" fill="#fff" stroke="#404040" stroke-width="0.75"/>
<text x="410.38" y="347.90" class="let" text-anchor="middle">e</text>
<line x1="431.57" y1="284.6" x2="431.57" y2="290.6" stroke="#505050" stroke-width="0.75"/>
<line x1="425.37" y1="284.6" x2="437.77" y2="284.6" stroke="#505050" stroke-width="0.75"/>
<line x1="425.37" y1="290.6" x2="437.77" y2="290.6" stroke="#505050" stroke-width="0.75"/>
<circle cx="431.57" cy="287.60" r="1.75" fill="#fff" stroke="#404040" stroke-width="0.75"/>
<text x="431.57" y="282.60" class="let" text-anchor="middle">b</text>
<line x1="452.76" y1="266.7" x2="452.76" y2="270.3" stroke="#505050" stroke-width="0.75"/>
<line x1="446.56" y1="266.7" x2="458.96" y2="266.7" stroke="#505050" stroke-width="0.75"/>
<line x1="446.56" y1="270.3" x2="458.96" y2="270.3" stroke="#505050" stroke-width="0.75"/>
<circle cx="452.76" cy="268.90" r="1.75" fill="#fff" stroke="#404040" stroke-width="0.75"/>
<text x="452.26" y="265.70" class="let" text-anchor="middle">a</text>
<line x1="473.95" y1="353.3" x2="473.95" y2="362.9" stroke="#505050" stroke-width="0.75"/>
<line x1="467.75" y1="353.3" x2="480.15" y2="353.3" stroke="#505050" stroke-width="0.75"/>
<line x1="467.75" y1="362.9" x2="480.15" y2="362.9" stroke="#505050" stroke-width="0.75"/>
<circle cx="473.95" cy="358.10" r="1.75" fill="#fff" stroke="#404040" stroke-width="0.75"/>
<text x="473.95" y="352.10" class="let" text-anchor="middle">f</text>
<line x1="495.14" y1="307.3" x2="495.14" y2="310.5" stroke="#505050" stroke-width="0.75"/>
<line x1="488.94" y1="307.3" x2="501.34" y2="307.3" stroke="#505050" stroke-width="0.75"/>
<line x1="488.94" y1="310.5" x2="501.34" y2="310.5" stroke="#505050" stroke-width="0.75"/>
<circle cx="495.14" cy="309.10" r="1.75" fill="#fff" stroke="#404040" stroke-width="0.75"/>
<text x="494.64" y="305.80" class="let" text-anchor="middle">d</text>
<line x1="516.33" y1="288.4" x2="516.33" y2="292.6" stroke="#505050" stroke-width="0.75"/>
<line x1="510.13" y1="288.4" x2="522.53" y2="288.4" stroke="#505050" stroke-width="0.75"/>
<line x1="510.13" y1="292.6" x2="522.53" y2="292.6" stroke="#505050" stroke-width="0.75"/>
<circle cx="516.33" cy="290.60" r="1.75" fill="#fff" stroke="#404040" stroke-width="0.75"/>
<text x="516.33" y="286.90" class="let" text-anchor="middle">c</text>
<line x1="368.00" y1="421.7" x2="368.00" y2="420.09999999999997" stroke="#404040" stroke-width="0.6"/>
<line x1="368.00" y1="252.6" x2="368.00" y2="254.2" stroke="#404040" stroke-width="0.6"/>
<line x1="389.19" y1="421.7" x2="389.19" y2="420.09999999999997" stroke="#404040" stroke-width="0.6"/>
<line x1="389.19" y1="252.6" x2="389.19" y2="254.2" stroke="#404040" stroke-width="0.6"/>
<line x1="410.38" y1="421.7" x2="410.38" y2="420.09999999999997" stroke="#404040" stroke-width="0.6"/>
<line x1="410.38" y1="252.6" x2="410.38" y2="254.2" stroke="#404040" stroke-width="0.6"/>
<line x1="431.57" y1="421.7" x2="431.57" y2="420.09999999999997" stroke="#404040" stroke-width="0.6"/>
<line x1="431.57" y1="252.6" x2="431.57" y2="254.2" stroke="#404040" stroke-width="0.6"/>
<line x1="452.76" y1="421.7" x2="452.76" y2="420.09999999999997" stroke="#404040" stroke-width="0.6"/>
<line x1="452.76" y1="252.6" x2="452.76" y2="254.2" stroke="#404040" stroke-width="0.6"/>
<line x1="473.95" y1="421.7" x2="473.95" y2="420.09999999999997" stroke="#404040" stroke-width="0.6"/>
<line x1="473.95" y1="252.6" x2="473.95" y2="254.2" stroke="#404040" stroke-width="0.6"/>
<line x1="495.14" y1="421.7" x2="495.14" y2="420.09999999999997" stroke="#404040" stroke-width="0.6"/>
<line x1="495.14" y1="252.6" x2="495.14" y2="254.2" stroke="#404040" stroke-width="0.6"/>
<line x1="516.33" y1="421.7" x2="516.33" y2="420.09999999999997" stroke="#404040" stroke-width="0.6"/>
<line x1="516.33" y1="252.6" x2="516.33" y2="254.2" stroke="#404040" stroke-width="0.6"/>
<line x1="537.52" y1="421.7" x2="537.52" y2="420.09999999999997" stroke="#404040" stroke-width="0.6"/>
<line x1="537.52" y1="252.6" x2="537.52" y2="254.2" stroke="#404040" stroke-width="0.6"/>
<line x1="548.5" y1="252.6" x2="546.7" y2="252.6" stroke="#404040" stroke-width="0.6"/>
<line x1="357.6" y1="252.6" x2="359.40000000000003" y2="252.6" stroke="#404040" stroke-width="0.6"/>
<text transform="translate(353.70,255.30) scale(0.86,1)" class="yt" text-anchor="end">3,2</text>
<line x1="548.5" y1="276.75714285714287" x2="546.7" y2="276.75714285714287" stroke="#404040" stroke-width="0.6"/>
<line x1="357.6" y1="276.75714285714287" x2="359.40000000000003" y2="276.75714285714287" stroke="#404040" stroke-width="0.6"/>
<text transform="translate(353.70,279.46) scale(0.86,1)" class="yt" text-anchor="end">3,0</text>
<line x1="548.5" y1="300.9142857142857" x2="546.7" y2="300.9142857142857" stroke="#404040" stroke-width="0.6"/>
<line x1="357.6" y1="300.9142857142857" x2="359.40000000000003" y2="300.9142857142857" stroke="#404040" stroke-width="0.6"/>
<text transform="translate(353.70,303.61) scale(0.86,1)" class="yt" text-anchor="end">2,8</text>
<line x1="548.5" y1="325.07142857142856" x2="546.7" y2="325.07142857142856" stroke="#404040" stroke-width="0.6"/>
<line x1="357.6" y1="325.07142857142856" x2="359.40000000000003" y2="325.07142857142856" stroke="#404040" stroke-width="0.6"/>
<text transform="translate(353.70,327.77) scale(0.86,1)" class="yt" text-anchor="end">2,6</text>
<line x1="548.5" y1="349.2285714285714" x2="546.7" y2="349.2285714285714" stroke="#404040" stroke-width="0.6"/>
<line x1="357.6" y1="349.2285714285714" x2="359.40000000000003" y2="349.2285714285714" stroke="#404040" stroke-width="0.6"/>
<text transform="translate(353.70,351.93) scale(0.86,1)" class="yt" text-anchor="end">2,4</text>
<line x1="548.5" y1="373.38571428571424" x2="546.7" y2="373.38571428571424" stroke="#404040" stroke-width="0.6"/>
<line x1="357.6" y1="373.38571428571424" x2="359.40000000000003" y2="373.38571428571424" stroke="#404040" stroke-width="0.6"/>
<text transform="translate(353.70,376.09) scale(0.86,1)" class="yt" text-anchor="end">2,2</text>
<line x1="548.5" y1="397.5428571428571" x2="546.7" y2="397.5428571428571" stroke="#404040" stroke-width="0.6"/>
<line x1="357.6" y1="397.5428571428571" x2="359.40000000000003" y2="397.5428571428571" stroke="#404040" stroke-width="0.6"/>
<text transform="translate(353.70,400.24) scale(0.86,1)" class="yt" text-anchor="end">2,0</text>
<line x1="548.5" y1="421.7" x2="546.7" y2="421.7" stroke="#404040" stroke-width="0.6"/>
<line x1="357.6" y1="421.7" x2="359.40000000000003" y2="421.7" stroke="#404040" stroke-width="0.6"/>
<text transform="translate(353.70,424.40) scale(0.86,1)" class="yt" text-anchor="end">1,8</text>
<text transform="translate(391.14,425.4) rotate(-90) scale(0.925,1)" class="xl" text-anchor="end">FG</text>
<text transform="translate(412.33,425.4) rotate(-90) scale(0.925,1)" class="xl" text-anchor="end">90FG/10CMC</text>
<text transform="translate(433.52,425.4) rotate(-90) scale(0.925,1)" class="xl" text-anchor="end">80FG/20CMC</text>
<text transform="translate(454.71,425.4) rotate(-90) scale(0.925,1)" class="xl" text-anchor="end">70FG/30CMC</text>
<text transform="translate(475.90,425.4) rotate(-90) scale(0.925,1)" class="xl" text-anchor="end">90FG/10PVOH</text>
<text transform="translate(497.09,425.4) rotate(-90) scale(0.925,1)" class="xl" text-anchor="end">80FG/20PVOH</text>
<text transform="translate(518.28,425.4) rotate(-90) scale(0.925,1)" class="xl" text-anchor="end">70FG/30PVOH</text>
<text x="453.05" y="483.4" class="mov" text-anchor="middle">MOVIES</text>
<text x="546.5" y="268.6" class="tag" text-anchor="end">(e)</text>
<text transform="translate(337.8,337.3) rotate(-90)" class="yls" style="font-size:6.35px" text-anchor="middle">OPACITY</text>
</g>
<rect x="560.4" y="406.2" width="11.2" height="6.1" fill="#c0c0c0" stroke="#444" stroke-width="0.8"/>
<rect x="564.5" y="407.8" width="2.7" height="2.7" rx="0.4" fill="#fff" stroke="#404040" stroke-width="0.6"/>
<line x1="560" y1="414.2" x2="572" y2="414.2" stroke="#505050" stroke-width="0.75"/>
<line x1="560" y1="421.4" x2="572" y2="421.4" stroke="#505050" stroke-width="0.75"/>
<line x1="566" y1="414.2" x2="566" y2="421.4" stroke="#505050" stroke-width="0.75"/>
<text x="575.1" y="412.8" class="leg">Mean ± SD</text>
</svg>
</body></html>
